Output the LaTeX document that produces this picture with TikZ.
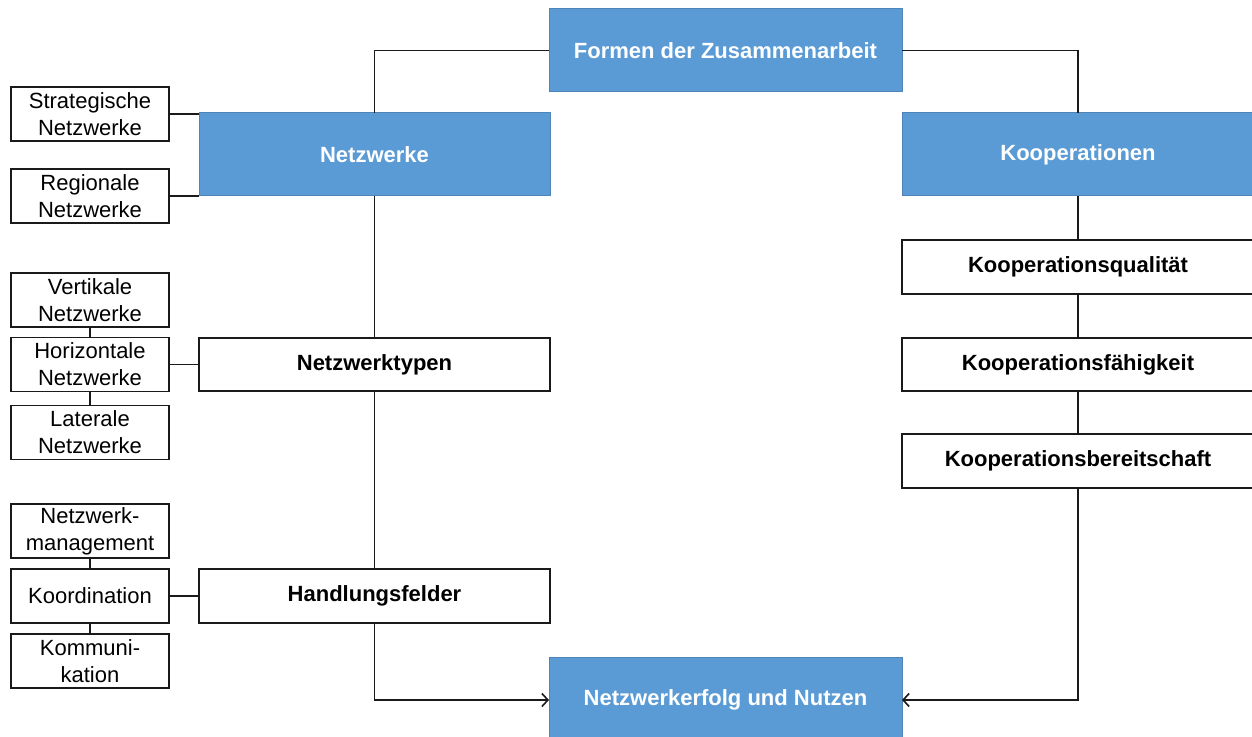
\documentclass[tikz,border=0pt]{standalone}
\usepackage{fontspec}
\setmainfont{Liberation Sans}
\usetikzlibrary{arrows.meta}
\definecolor{boxblue}{HTML}{5B9BD5}
\definecolor{boxblueline}{HTML}{4F84B8}
\definecolor{lineblack}{HTML}{1A1A1A}
\begin{document}
\begin{tikzpicture}[x=0.5pt, y=-0.5pt,
  every node/.style={inner sep=0pt, outer sep=0pt, font=\fontsize{11pt}{13.5pt}\selectfont},
  bluebox/.style={rectangle, fill=boxblue, draw=boxblueline, line width=0.5pt,
    text=white, font=\fontsize{11pt}{13.5pt}\selectfont\bfseries},
  mainbox/.style={rectangle, fill=white, draw=lineblack, line width=0.85pt,
    font=\fontsize{11pt}{13.5pt}\selectfont\bfseries},
  subbox/.style={rectangle, fill=white, draw=lineblack, line width=0.7pt,
    minimum width=79pt, minimum height=27pt, align=center},
  link/.style={draw=lineblack, line width=0.9pt},
  arrowlink/.style={link, -{Straight Barb[length=3pt,width=6.5pt,line width=0.8pt]}}
]
\useasboundingbox (0,0) rectangle (1252,737);

% central column
\node[bluebox, minimum width=176.5pt, minimum height=41.5pt] (form) at (725.5,50.5) {Formen der Zusammenarbeit};
\node[bluebox, minimum width=176.5pt, minimum height=43pt] (erfolg) at (725.5,700) {Netzwerkerfolg und Nutzen};

% network branch
\node[bluebox, minimum width=175.5pt, minimum height=41.5pt] (nw) at (374.5,154.5) {Netzwerke};
\node[mainbox, minimum width=175.5pt, minimum height=26.5pt] (nt) at (374.5,364.5) {Netzwerktypen};
\node[mainbox, minimum width=175.5pt, minimum height=27pt] (hf) at (374.5,596) {Handlungsfelder};

% cooperation branch
\node[bluebox, minimum width=176pt, minimum height=41.5pt] (koop) at (1078,154.5) {Kooperationen};
\node[mainbox, minimum width=176pt, minimum height=27pt] (kq) at (1078,267) {Kooperationsqualität};
\node[mainbox, minimum width=176pt, minimum height=26.5pt] (kf) at (1078,364.5) {Kooperationsfähigkeit};
\node[mainbox, minimum width=176pt, minimum height=27pt] (kb) at (1078,461) {Kooperationsbereitschaft};

% detail boxes on the left
\node[subbox] (strat) at (90,114) {Strategische\\Netzwerke};
\node[subbox] (reg) at (90,196) {Regionale\\Netzwerke};
\node[subbox] (vert) at (90,300) {Vertikale\\Netzwerke};
\node[subbox] (horiz) at (90,364.5) {Horizontale\\Netzwerke};
\node[subbox] (lat) at (90,432.5) {Laterale\\Netzwerke};
\node[subbox] (nm) at (90,531) {Netzwerk-\\management};
\node[subbox] (koord) at (90,596) {Koordination};
\node[subbox] (komm) at (90,661) {Kommuni-\\kation};

% connectors
\draw[link] (form.west) -| (nw.north);
\draw[link] (form.east) -| (koop.north);
\draw[link] (nw.south) -- (nt.north);
\draw[link] (nt.south) -- (hf.north);
\draw[arrowlink] (hf.south) |- (erfolg.west);
\draw[link] (koop.south) -- (kq.north);
\draw[link] (kq.south) -- (kf.north);
\draw[link] (kf.south) -- (kb.north);
\draw[arrowlink] (kb.south) |- (erfolg.east);

\draw[link] (strat.east) -- (strat.east -| nw.west);
\draw[link] (reg.east) -- (reg.east -| nw.west);
\draw[link] (vert.south) -- (horiz.north);
\draw[link] (horiz.south) -- (lat.north);
\draw[link] (horiz.east) -- (nt.west);
\draw[link] (nm.south) -- (koord.north);
\draw[link] (koord.south) -- (komm.north);
\draw[link] (koord.east) -- (hf.west);
\end{tikzpicture}
\end{document}
